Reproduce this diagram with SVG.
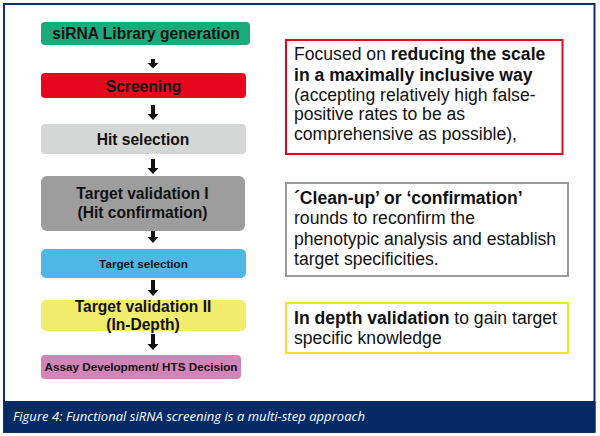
<svg xmlns="http://www.w3.org/2000/svg" width="600" height="436" viewBox="0 0 600 436">
<style>
.step{font-family:"Liberation Sans",Arial,sans-serif;font-weight:bold;fill:#111;text-anchor:middle}
.big{font-size:15.6px}
.small{font-size:11.7px}
.note{font-family:"Liberation Sans",Arial,sans-serif;font-size:17.6px;fill:#111}
.b{font-weight:bold}
.box{fill:#fff;stroke-width:2}
.arrow{fill:#111}
.cap{font-family:"Open Sans","DejaVu Sans",sans-serif;font-style:italic;font-size:13px;fill:#fff}
</style>
<rect x="0" y="0" width="600" height="436" fill="#fff"/>
<rect x="4" y="4" width="590.5" height="428" fill="#fff" stroke="#0d2f6e" stroke-width="2"/>
<rect x="4" y="401" width="591.5" height="31" fill="#062a66"/>
<text class="cap" x="13" y="420.5" textLength="352">Figure 4: Functional siRNA screening is a multi-step approach</text>

<g id="connectors">
<path class="arrow" d="M151,59 h4 v4 h3.5 l-5.5,5.5 l-5.5,-5.5 h3.5 z"/>
<path class="arrow" d="M151,105 h4 v9 h3.5 l-5.5,6 l-5.5,-6 h3.5 z"/>
<path class="arrow" d="M151,159 h4 v9 h3.5 l-5.5,6 l-5.5,-6 h3.5 z"/>
<path class="arrow" d="M151,231 h4 v6 h3.5 l-5.5,6 l-5.5,-6 h3.5 z"/>
<path class="arrow" d="M151,280 h4 v10 h3.5 l-5.5,6 l-5.5,-6 h3.5 z"/>
<path class="arrow" d="M151,334 h4 v10 h3.5 l-5.5,6 l-5.5,-6 h3.5 z"/>
</g>

<g id="node-library">
<rect x="41" y="22" width="209" height="23" rx="4" fill="#1bab7b"/>
<text class="step big" x="146" y="38.5">siRNA Library generation</text>
</g>
<g id="node-screening">
<rect x="41" y="73" width="205" height="25" rx="4" fill="#e8061e"/>
<text class="step big" x="143.5" y="91.5">Screening</text>
</g>
<g id="node-hit-selection">
<rect x="41" y="124" width="205" height="30" rx="4" fill="#d5d7d6"/>
<text class="step big" x="143" y="145">Hit selection</text>
</g>
<g id="node-target-validation-1">
<rect x="41" y="176" width="204" height="55" rx="6" fill="#9d9d9d"/>
<text class="step big" x="142.5" y="199">Target validation I</text>
<text class="step big" x="142.5" y="218">(Hit confirmation)</text>
</g>
<g id="node-target-selection">
<rect x="41" y="249" width="205" height="29" rx="5" fill="#4db8e6"/>
<text class="step small" x="143.5" y="267.5">Target selection</text>
</g>
<g id="node-target-validation-2">
<rect x="41" y="300" width="205" height="31" rx="5" fill="#f1ec6c"/>
<text class="step big" x="143" y="312">Target validation II</text>
<text class="step big" x="143" y="330">(In-Depth)</text>
</g>
<g id="node-assay">
<rect x="41" y="355" width="200" height="24" rx="4" fill="#d283b7"/>
<text class="step small" x="141" y="371">Assay Development/ HTS Decision</text>
</g>

<g id="note-screening">
<rect class="box" x="286" y="40" width="276.5" height="114" stroke="#e8061e"/>
<text class="note" x="294" y="60">Focused on <tspan class="b">reducing the scale</tspan></text>
<text class="note b" x="294" y="80.5">in a maximally inclusive way</text>
<text class="note" x="294" y="100.5">(accepting relatively high false-</text>
<text class="note" x="294" y="120">positive rates to be as</text>
<text class="note" x="294" y="139.5">comprehensive as possible),</text>
</g>
<g id="note-validation-1">
<rect class="box" x="286" y="183" width="282" height="93" stroke="#9a9a9a"/>
<text class="note b" x="294" y="203.5">´Clean-up’ or ‘confirmation’</text>
<text class="note" x="294" y="224">rounds to reconfirm the</text>
<text class="note" x="294" y="244.5">phenotypic analysis and establish</text>
<text class="note" x="294" y="265">target specificities.</text>
</g>
<g id="note-validation-2">
<rect class="box" x="286" y="303" width="282" height="50" stroke="#efe21f"/>
<text class="note" x="294" y="323.5"><tspan class="b">In depth validation</tspan> to gain target</text>
<text class="note" x="294" y="344">specific knowledge</text>
</g>
</svg>
